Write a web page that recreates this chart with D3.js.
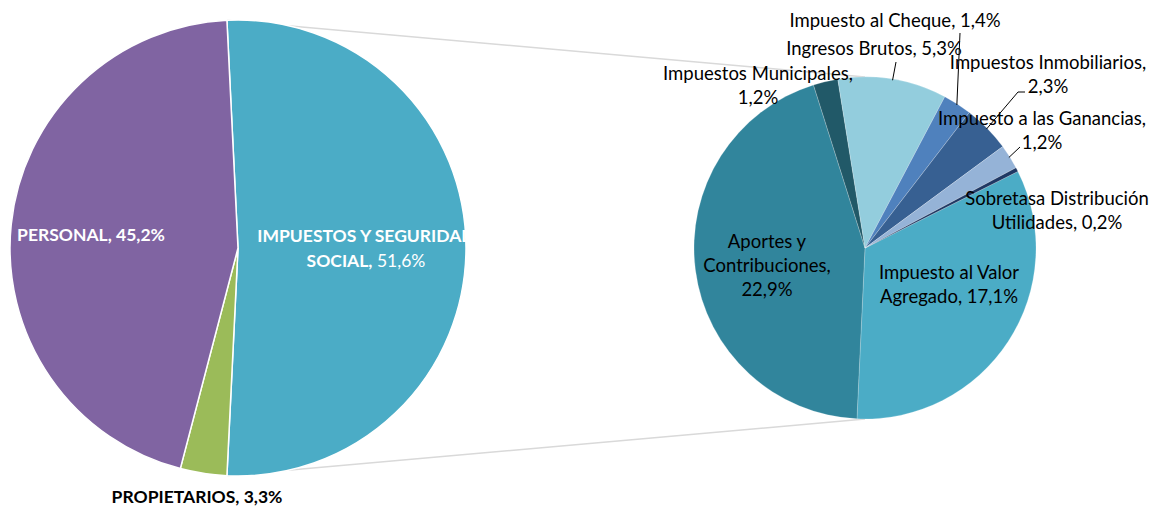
<!DOCTYPE html>
<html>
<head>
<meta charset="utf-8">
<script src="https://cdn.jsdelivr.net/npm/d3@7"></script>
<style>
  body { margin: 0; background: #fff; }
  svg { display: block; }
  text { font-family: Lato, "Open Sans", sans-serif; }
</style>
</head>
<body>
<div id="chart"></div>
<script>
// primary pie
var mainNames = ["IMPUESTOS Y SEGURIDAD SOCIAL", "PROPIETARIOS", "PERSONAL"];
var mainValues = [51.6, 3.3, 45.2];
var mainColors = ["#4BACC6", "#9BBB59", "#8064A2"];

// secondary pie: breakdown of "impuestos y seguridad social"
var subNames = ["Impuesto al Valor Agregado", "Aportes y Contribuciones", "Impuestos Municipales",
    "Ingresos Brutos", "Impuesto al Cheque", "Impuestos Inmobiliarios",
    "Impuesto a las Ganancias", "Sobretasa Distribución Utilidades"];
var subValues = [17.1, 22.9, 1.2, 5.3, 1.4, 2.3, 1.2, 0.2];
var subColors = ["#4BACC6", "#31859C", "#215968", "#93CDDD", "#4F81BD", "#376092", "#95B3D7", "#1F3864"];

var width = 1149, height = 507;

// label layout (positions only, no values here)
var mainLayout = {
    "IMPUESTOS Y SEGURIDAD SOCIAL": {x: 366, y: 236, wrap: [3, 2], fill: "#fff", valueBold: false, clip: true},
    "PROPIETARIOS": {x: 197, y: 497, wrap: [2], fill: "#000", valueBold: true},
    "PERSONAL": {x: 91, y: 235, wrap: [2], fill: "#fff", valueBold: true}
};
var subLayout = {
    "Impuesto al Valor Agregado": {x: 949, y: 272, wrap: [3, 2]},
    "Aportes y Contribuciones": {x: 767, y: 241, wrap: [2, 1, 1]},
    "Impuestos Municipales": {x: 758, y: 73, wrap: [2, 1]},
    "Ingresos Brutos": {x: 874, y: 48, wrap: [3], leader: [[896, 62]]},
    "Impuesto al Cheque": {x: 895, y: 20, wrap: [4], leader: [[960, 33]]},
    "Impuestos Inmobiliarios": {x: 1048, y: 62, wrap: [2, 1], leader: [[1025, 92], [1018, 92]]},
    "Impuesto a las Ganancias": {x: 1042, y: 118, wrap: [4, 1], leader: [[1020, 147]]},
    "Sobretasa Distribución Utilidades": {x: 1057, y: 198, wrap: [2, 2]}
};

var fmt = function(v) { return d3.format(".1f")(v).replace(".", ",") + "%"; };
var deg = Math.PI / 180;

var svg = d3.select("#chart").append("svg")
    .attr("width", width)
    .attr("height", height);

svg.append("defs").append("clipPath").attr("id", "plotClip")
    .append("rect").attr("x", 0).attr("y", 0).attr("width", 466).attr("height", height);

// geometry
var c1 = {x: 238, y: 248, r: 228};
var c2 = {x: 865, y: 248, r: 171};

var mainTotal = d3.sum(mainValues);
var mainStart = 90 * deg - Math.PI * mainValues[0] / mainTotal;
var mainPie = d3.pie().sort(null).startAngle(mainStart).endAngle(mainStart + 2 * Math.PI);
var mainArcs = mainPie(mainValues);

var subStart = 63.4 * deg;
var subPie = d3.pie().sort(null).startAngle(subStart).endAngle(subStart + 2 * Math.PI);
var subArcs = subPie(subValues);

function pt(c, a, r) {
    return [c.x + r * Math.sin(a), c.y - r * Math.cos(a)];
}

// connector lines between the two pies
var split = mainArcs[0];
var p0 = pt(c1, split.startAngle, c1.r), p1 = pt(c1, split.endAngle, c1.r);
svg.append("g").selectAll("line")
    .data([[p0, [c2.x, c2.y - c2.r]], [p1, [c2.x, c2.y + c2.r]]])
    .join("line")
    .attr("x1", function(d) { return d[0][0]; })
    .attr("y1", function(d) { return d[0][1]; })
    .attr("x2", function(d) { return d[1][0]; })
    .attr("y2", function(d) { return d[1][1]; })
    .attr("stroke", "#D9D9D9")
    .attr("stroke-width", 1.5);

var arc1 = d3.arc().innerRadius(0).outerRadius(c1.r);
svg.append("g").attr("transform", "translate(" + c1.x + "," + c1.y + ")")
    .selectAll("path").data(mainArcs).join("path")
    .attr("d", arc1)
    .attr("fill", function(d, i) { return mainColors[i]; })
    .attr("stroke", "#fff")
    .attr("stroke-width", 1.5);

var arc2 = d3.arc().innerRadius(0).outerRadius(c2.r);
svg.append("g").attr("transform", "translate(" + c2.x + "," + c2.y + ")")
    .selectAll("path").data(subArcs).join("path")
    .attr("d", arc2)
    .attr("fill", function(d, i) { return subColors[i]; })
    .attr("stroke", "rgba(255,255,255,0.35)")
    .attr("stroke-width", 0.6);

// leader lines for the small slices
subArcs.forEach(function(d, i) {
    var lay = subLayout[subNames[i]];
    if (!lay.leader) return;
    var mid = (d.startAngle + d.endAngle) / 2;
    var pts = lay.leader.concat([pt(c2, mid, c2.r - 1)]);
    svg.append("path")
        .attr("d", d3.line()(pts))
        .attr("fill", "none")
        .attr("stroke", "#000")
        .attr("stroke-width", 1);
});

// multi-line label writer
function drawLabel(g, name, value, lay, opt) {
    var words = name.split(" ");
    words[words.length - 1] += ",";
    words.push(fmt(value));
    var k = 0;
    lay.wrap.forEach(function(n, li) {
        var t = g.append("text")
            .attr("x", lay.x)
            .attr("y", lay.y + li * opt.lh)
            .attr("dy", "0.36em")
            .attr("text-anchor", "middle")
            .attr("fill", opt.fill)
            .style("font-size", opt.size + "px");
        for (var j = 0; j < n && k < words.length; j++, k++) {
            var isValue = k === words.length - 1;
            t.append("tspan")
                .text((j > 0 ? " " : "") + words[k])
                .style("font-weight", opt.bold && (!isValue || opt.valueBold) ? 700 : 400);
        }
    });
}

var lab1 = svg.append("g");
mainNames.forEach(function(n, i) {
    var lay = mainLayout[n];
    var g = lay.clip ? lab1.append("g").attr("clip-path", "url(#plotClip)") : lab1;
    drawLabel(g, n, mainValues[i], lay, {lh: 25, size: 17.5, bold: true, valueBold: lay.valueBold, fill: lay.fill});
});

var lab2 = svg.append("g");
subNames.forEach(function(n, i) {
    drawLabel(lab2, n, subValues[i], subLayout[n], {lh: 24, size: 18.5, bold: false, fill: "#000"});
});
</script>
</body>
</html>
